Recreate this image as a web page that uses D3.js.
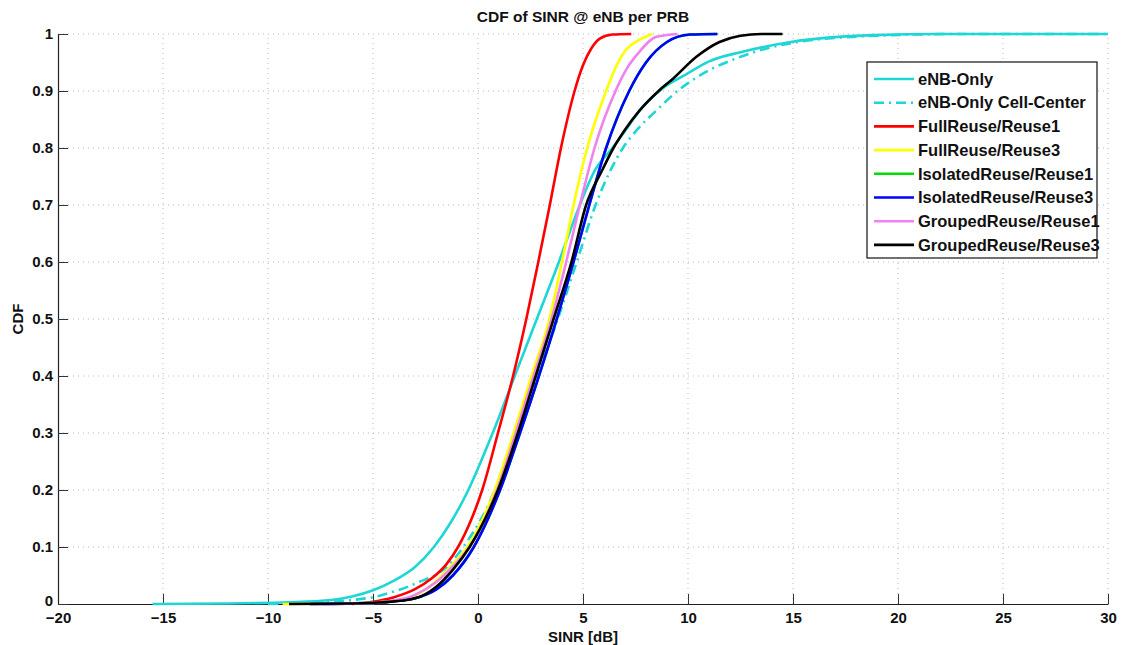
<!DOCTYPE html>
<html>
<head>
<meta charset="utf-8">
<script src="https://cdn.jsdelivr.net/npm/d3@7"></script>
<style>
  body { margin: 0; background: #fff; }
  svg { font-family: "Liberation Sans", Arial, sans-serif; font-weight: bold; }
</style>
</head>
<body>
<div id="chart"></div>
<script>
// values: [SINR dB, CDF]
const enbOnly = [[-15.5,0],[-12,0.001],[-9,0.003],[-7,0.007],[-6,0.013],[-5,0.024],[-4,0.041],[-3,0.065],[-2.1,0.1],[-1.3,0.143],[-0.5,0.197],[0.7,0.3],[1.75,0.4],[2.8,0.5],[3.85,0.6],[4.4,0.656],[4.85,0.7],[5.57,0.761],[6.4,0.8],[7.0,0.83],[7.7,0.866],[8.8,0.905],[9.95,0.93],[11,0.952],[12.5,0.968],[14.9,0.986],[18.8,0.998],[22,1],[30,1]];
const enbOnlyCenter = [[-10,0],[-8,0.002],[-6,0.007],[-5,0.012],[-4,0.022],[-2.9,0.037],[-1.5,0.065],[-0.7,0.1],[0.8,0.2],[1.75,0.3],[2.8,0.4],[3.8,0.5],[4.7,0.6],[5.6,0.7],[6.9,0.8],[7.7,0.837],[8.5,0.866],[9.5,0.9],[10.5,0.926],[12.5,0.96],[14.9,0.984],[19,0.997],[23,1],[30,1]];
const fullReuse1 = [[-6,0],[-5,0.004],[-4,0.012],[-3,0.026],[-2.2,0.045],[-1.5,0.07],[-0.95,0.1],[-0.3,0.15],[0.2,0.2],[0.95,0.3],[1.67,0.4],[2.3,0.5],[2.87,0.6],[3.42,0.7],[3.95,0.8],[4.6,0.9],[5.0,0.945],[5.4,0.975],[5.8,0.992],[6.4,0.999],[7.3,1]];
const fullReuse3 = [[-9.3,0],[-6,0.001],[-4,0.005],[-3,0.015],[-2,0.04],[-1.2,0.07],[-0.5,0.1],[0.8,0.2],[1.7,0.3],[2.55,0.4],[3.4,0.5],[4.0,0.6],[4.55,0.7],[5.2,0.8],[6.1,0.9],[6.6,0.945],[7.0,0.97],[7.7,0.99],[8.3,1]];
const isolatedReuse1 = [[-8,0],[-5,0.002],[-4,0.005],[-3,0.01],[-2,0.025],[-1.2,0.05],[-0.2,0.1],[1.05,0.2],[2,0.3],[2.9,0.4],[3.75,0.5],[4.55,0.6],[5.3,0.7],[6.1,0.8],[7.2,0.9],[8.0,0.95],[9.0,0.986],[10.1,0.999],[11.4,1]];
const isolatedReuse3 = [[-8,0],[-5,0.002],[-4,0.005],[-3,0.01],[-2,0.025],[-1.2,0.05],[-0.2,0.1],[1.05,0.2],[2,0.3],[2.9,0.4],[3.75,0.5],[4.55,0.6],[5.3,0.7],[6.1,0.8],[7.2,0.9],[8.0,0.95],[9.0,0.986],[10.1,0.999],[11.4,1]];
const groupedReuse1 = [[-8,0],[-5,0.002],[-4,0.006],[-3,0.016],[-2,0.038],[-1.1,0.07],[-0.4,0.1],[0.9,0.2],[1.8,0.3],[2.65,0.4],[3.5,0.5],[4.2,0.6],[4.85,0.7],[5.55,0.8],[6.55,0.9],[7.1,0.94],[7.6,0.965],[8.5,0.995],[9.5,1]];
const groupedReuse3 = [[-9,0],[-6,0.001],[-4.5,0.003],[-3,0.01],[-2,0.03],[-1.2,0.06],[-0.4,0.1],[0.95,0.2],[1.9,0.3],[2.75,0.4],[3.6,0.5],[4.45,0.6],[5.15,0.7],[5.9,0.76],[6.45,0.8],[7.0,0.832],[7.7,0.866],[8.6,0.9],[9.3,0.922],[10.4,0.96],[11.5,0.986],[12.5,0.997],[13.5,1],[14.5,1]];

const seriesNames = ["eNB-Only","eNB-Only Cell-Center","FullReuse/Reuse1","FullReuse/Reuse3",
  "IsolatedReuse/Reuse1","IsolatedReuse/Reuse3","GroupedReuse/Reuse1","GroupedReuse/Reuse3"];
const seriesColors = ["#1fd6d6","#1fd6d6","#ff0000","#ffff00","#00dd00","#0000ff","#ee82ee","#000000"];
const seriesData = [enbOnly, enbOnlyCenter, fullReuse1, fullReuse3, isolatedReuse1, isolatedReuse3, groupedReuse1, groupedReuse3];
const xTicks = [-20,-15,-10,-5,0,5,10,15,20,25,30];
const yTicks = [0,0.1,0.2,0.3,0.4,0.5,0.6,0.7,0.8,0.9,1];

const W = 1123, H = 645;
const m = {left: 58, right: 15, top: 34, bottom: 41};

const svg = d3.select("#chart").append("svg")
  .attr("width", W).attr("height", H);

const x = d3.scaleLinear().domain([-20, 30]).range([m.left, W - m.right]);
const y = d3.scaleLinear().domain([0, 1]).range([H - m.bottom, m.top]);

// grid
const grid = svg.append("g").attr("stroke", "#b8b8b8").attr("stroke-width", 1)
  .attr("stroke-dasharray", "1,4");
grid.selectAll("line.vx").data(xTicks.slice(1)).enter().append("line")
  .attr("x1", d => x(d)).attr("x2", d => x(d))
  .attr("y1", y(0)).attr("y2", y(1));
grid.selectAll("line.hy").data(yTicks.slice(1)).enter().append("line")
  .attr("x1", x(-20)).attr("x2", x(30))
  .attr("y1", d => y(d)).attr("y2", d => y(d));

// axes
const xAxis = svg.append("g").attr("transform", `translate(0,${y(0)})`)
  .call(d3.axisBottom(x).tickValues(xTicks).tickSizeInner(-10).tickSizeOuter(0)
    .tickPadding(8).tickFormat(d => d < 0 ? "\u2212" + Math.abs(d) : d));
const yAxis = svg.append("g").attr("transform", `translate(${x(-20)},0)`)
  .call(d3.axisLeft(y).tickValues(yTicks).tickSizeInner(-10).tickSizeOuter(0)
    .tickPadding(5).tickFormat(d3.format("~g")));
[xAxis, yAxis].forEach(a => {
  a.select(".domain").attr("stroke", "#222").attr("stroke-width", 1.2);
  a.selectAll(".tick line").attr("stroke", "#333");
  a.selectAll("text").attr("fill", "#111").style("font-size", "15px")
    .style("font-weight", "bold").style("font-family", "Liberation Sans, Arial, sans-serif");
});
// the 0 label sits a little higher so it clears the -20 label below it
yAxis.selectAll(".tick text").filter(d => d === 0).attr("dy", "0.1em");

// lines
const line = d3.line().x(d => x(d[0])).y(d => y(d[1])).curve(d3.curveMonotoneX);
svg.append("g").selectAll("path").data(seriesData).enter().append("path")
  .attr("d", d => line(d))
  .attr("fill", "none")
  .attr("stroke", (d, i) => seriesColors[i])
  .attr("stroke-width", 2.6)
  .attr("stroke-dasharray", (d, i) => i === 1 ? "10,5,2,5" : null)
  .attr("stroke-linejoin", "round");

// titles
svg.append("text").attr("x", (x(-20) + x(30)) / 2).attr("y", 22)
  .attr("text-anchor", "middle").style("font-size", "15.5px").attr("fill", "#111")
  .text("CDF of SINR @ eNB per PRB");
svg.append("text").attr("x", (x(-20) + x(30)) / 2).attr("y", 642)
  .attr("text-anchor", "middle").style("font-size", "15px").attr("fill", "#111")
  .text("SINR [dB]");
svg.append("text").attr("transform", `translate(23,${(y(0) + y(1)) / 2}) rotate(-90)`)
  .attr("text-anchor", "middle").style("font-size", "15px").attr("fill", "#111")
  .text("CDF");

// legend
const lg = svg.append("g").attr("transform", "translate(867,62)");
lg.append("rect").attr("width", 230).attr("height", 196)
  .attr("fill", "#fff").attr("stroke", "#111").attr("stroke-width", 1.2);
const item = lg.selectAll("g.item").data(seriesNames).enter().append("g")
  .attr("transform", (d, i) => `translate(0,${17 + i * 23.7})`);
item.append("line").attr("x1", 7).attr("x2", 47)
  .attr("stroke", (d, i) => seriesColors[i]).attr("stroke-width", 2.6)
  .attr("stroke-dasharray", (d, i) => i === 1 ? "10,5,2,5" : null);
item.append("text").attr("x", 51).attr("dy", "0.35em")
  .style("font-size", "16.5px").attr("fill", "#111").text(d => d);
</script>
</body>
</html>
